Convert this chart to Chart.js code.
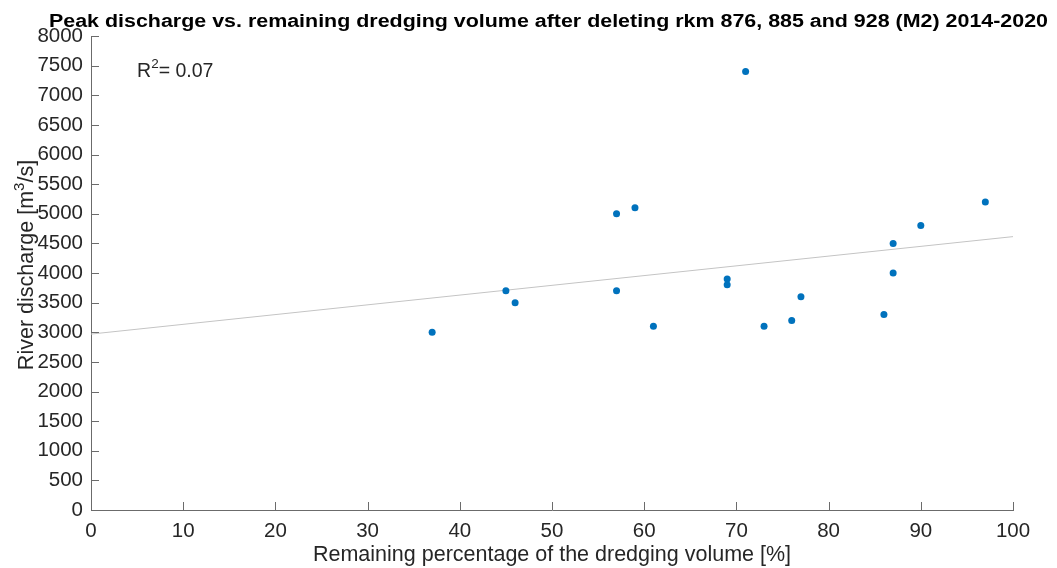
<!DOCTYPE html>
<html lang="en">
<head>
    <meta charset="UTF-8">
    <title>Peak discharge vs. remaining dredging volume</title>
    <script src="https://cdn.jsdelivr.net/npm/chart.js"></script>
    <style>
        body {
            margin: 0;
            background: #fff;
        }
        #chart-container {
            width: 1057px;
            height: 568px;
        }
    </style>
</head>
<body>
    <div id="chart-container">
        <canvas id="chart" width="1057" height="568"></canvas>
    </div>
    <script type="text/javascript">
        // remaining dredging volume [%] and peak river discharge [m3/s], 2014-2020
        const remainingPct = [37, 45, 46, 57, 57, 59, 61, 69, 69, 71, 73, 76, 77, 86, 87, 87, 90, 97];
        const peakDischarge = [3000, 3700, 3500, 5000, 3700, 5100, 3100, 3900, 3800, 7400, 3100, 3200, 3600, 3300, 4000, 4500, 4800, 5200];

        // linear fit end points
        const fitX = [0, 100];
        const fitY = [2969, 4614];
        const rSquared = '0.07';

        // axis ranges and tick steps
        const xRange = [0, 100];
        const xStep = 10;
        const yRange = [0, 8000];
        const yStep = 500;

        const titleText = 'Peak discharge vs. remaining dredging volume after deleting rkm 876, 885 and 928 (M2) 2014-2020';
        const axisColor = '#6b6b6b';
        const textColor = '#262626';
        const fontFamily = '"Liberation Sans", Arial, Helvetica, sans-serif';

        var points = remainingPct.map(function(x, i) {
            return {x: x, y: peakDischarge[i]};
        });
        var fitLine = fitX.map(function(x, i) {
            return {x: x, y: fitY[i]};
        });

        // MATLAB style ticks pointing into the axes
        const innerTicks = {
            id: 'innerTicks',
            afterDraw(chart) {
                const ctx = chart.ctx;
                const xs = chart.scales.x;
                const ys = chart.scales.y;
                const len = 8;
                ctx.save();
                ctx.strokeStyle = axisColor;
                ctx.lineWidth = 1;
                ctx.beginPath();
                xs.ticks.forEach(function(t) {
                    const px = Math.round(xs.getPixelForValue(t.value)) + 0.5;
                    ctx.moveTo(px, ys.bottom);
                    ctx.lineTo(px, ys.bottom - len);
                });
                ys.ticks.forEach(function(t) {
                    const py = Math.round(ys.getPixelForValue(t.value)) + 0.5;
                    ctx.moveTo(xs.left, py);
                    ctx.lineTo(xs.left + len, py);
                });
                ctx.stroke();
                ctx.restore();
            }
        };

        // draws a run of [text, size, raise] pieces from the current origin
        function drawRuns(ctx, runs) {
            let x = 0;
            runs.forEach(function(r) {
                ctx.font = r[1] + 'px ' + fontFamily;
                ctx.fillText(r[0], x, -r[2]);
                x += ctx.measureText(r[0]).width;
            });
            return x;
        }
        function runsWidth(ctx, runs) {
            let w = 0;
            runs.forEach(function(r) {
                ctx.font = r[1] + 'px ' + fontFamily;
                w += ctx.measureText(r[0]).width;
            });
            return w;
        }

        // title, y axis label with superscript and the R^2 note
        const annotations = {
            id: 'annotations',
            afterDraw(chart) {
                const ctx = chart.ctx;
                const xs = chart.scales.x;
                const ys = chart.scales.y;
                ctx.save();
                ctx.fillStyle = '#000';
                ctx.textAlign = 'left';
                ctx.textBaseline = 'alphabetic';

                ctx.font = 'bold 18px ' + fontFamily;
                const w = ctx.measureText(titleText).width;
                ctx.save();
                ctx.translate(49, 27);
                ctx.scale(999 / w, 1);
                ctx.fillText(titleText, 0, 0);
                ctx.restore();

                ctx.fillStyle = textColor;
                const yLabel = [['River discharge [m', 21.5, 0], ['3', 15, 9], ['/s]', 21.5, 0]];
                const yw = runsWidth(ctx, yLabel);
                ctx.save();
                ctx.translate(33, 265 + yw / 2);
                ctx.rotate(-Math.PI / 2);
                drawRuns(ctx, yLabel);
                ctx.restore();

                ctx.save();
                ctx.translate(xs.getPixelForValue(5), ys.getPixelForValue(7400) + 5.5);
                drawRuns(ctx, [['R', 19.5, 0], ['2', 13.5, 9], ['= ' + rSquared, 19.5, 0]]);
                ctx.restore();
                ctx.restore();
            }
        };

        var ctx = document.getElementById('chart').getContext('2d');
        var chart = new Chart(ctx, {
            type: 'scatter',
            data: {
                datasets: [{
                    label: 'Peak discharge',
                    data: points,
                    backgroundColor: '#0072BD',
                    borderColor: '#0072BD',
                    borderWidth: 0,
                    pointRadius: 3.5,
                    order: 0
                }, {
                    label: 'Linear fit',
                    type: 'line',
                    data: fitLine,
                    borderColor: '#c4c4c4',
                    borderWidth: 1,
                    pointRadius: 0,
                    fill: false,
                    order: 1
                }]
            },
            options: {
                responsive: false,
                animation: false,
                devicePixelRatio: 1,
                layout: {
                    padding: {top: 36, right: 44, left: 0, bottom: 0}
                },
                plugins: {
                    legend: {display: false},
                    tooltip: {enabled: false},
                    title: {display: false}
                },
                scales: {
                    x: {
                        type: 'linear',
                        min: xRange[0],
                        max: xRange[1],
                        afterFit: function(scale) { scale.height = 58; },
                        border: {display: true, color: axisColor, width: 1},
                        grid: {display: false, drawTicks: false, tickLength: 0},
                        ticks: {
                            stepSize: xStep,
                            padding: 9,
                            color: textColor,
                            font: {family: fontFamily, size: 20.5},
                            maxRotation: 0
                        },
                        title: {
                            display: true,
                            text: 'Remaining percentage of the dredging volume [%]',
                            color: textColor,
                            font: {family: fontFamily, size: 21.5},
                            padding: {top: 0, bottom: 0}
                        }
                    },
                    y: {
                        type: 'linear',
                        min: yRange[0],
                        max: yRange[1],
                        afterFit: function(scale) { scale.width = 91; },
                        border: {display: true, color: axisColor, width: 1},
                        grid: {display: false, drawTicks: false, tickLength: 0},
                        ticks: {
                            stepSize: yStep,
                            padding: 8,
                            color: textColor,
                            font: {family: fontFamily, size: 20.5},
                            callback: function(v) { return String(v); }
                        }
                    }
                }
            },
            plugins: [innerTicks, annotations]
        });
    </script>
</body>
</html>
